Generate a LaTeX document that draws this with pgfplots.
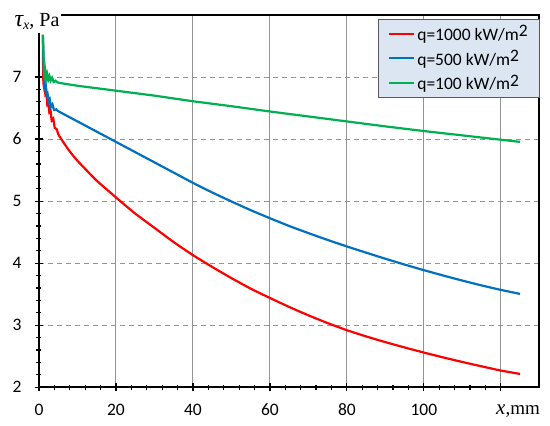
\documentclass[border=0pt]{standalone}
\usepackage{fontspec}
\setmainfont{Carlito}
\newfontfamily\serif{Liberation Serif}
\usepackage{pgfplots}
\pgfplotsset{compat=1.18}
\definecolor{cred}{RGB}{255,0,0}
\definecolor{cblue}{RGB}{0,112,192}
\definecolor{cgreen}{RGB}{0,176,80}
\definecolor{legfill}{RGB}{220,230,242}
\begin{document}
\begin{tikzpicture}
\begin{axis}[
  name=ax,
  at={(0,0)}, anchor=south west,
  scale only axis,
  width=500.3pt, height=372.3pt,
  xmin=0, xmax=130, ymin=2, ymax=8,
  xtick={0,20,40,60,80,100,120},
  xticklabels={0,20,40,60,80,100,{}},
  ytick={2,3,4,5,6,7},
  minor x tick num=4,
  minor y tick num=4,
  xtick pos=bottom, ytick pos=left,
  tick align=center,
  major tick length=8pt, minor tick length=5pt,
  every tick/.style={black, line width=1.2pt},
  axis line style={black, line width=1.6pt},
  xmajorgrids, ymajorgrids,
  major x grid style={gray!85, line width=1pt, solid},
  major y grid style={gray!85, line width=1pt, dash pattern=on 5pt off 4pt},
  /pgf/number format/assume math mode=true,
  ticklabel style={font=\fontsize{17.5}{19}\selectfont},
  xticklabel style={yshift=-9pt},
  yticklabel style={xshift=-10pt},
  legend style={at={(1,1)}, anchor=north east, xshift=1pt, yshift=-4pt,
    fill=legfill, draw=gray!70!black, line width=1pt,
    font=\fontsize{17.5}{19}\selectfont, row sep=4pt, inner xsep=10pt, inner ysep=4pt},
  legend cell align=left,
  legend image code/.code={\draw[#1, line width=2pt] (0pt,0pt) -- (25pt,0pt);},
]
\addplot[cred, line width=2.2pt, smooth, tension=0.35] coordinates {
(1.0,7.68) (1.1,7.0) (1.25,6.86) (1.45,6.95) (1.65,6.72) (1.9,6.78) (2.15,6.56) (2.4,6.62) (2.7,6.42) (3.0,6.46) (3.3,6.30) (3.7,6.33) (4.1,6.18) (4.6,6.16) (5,6.08) (6,5.98) (8,5.80) (10,5.65) (12,5.52) (15,5.33) (20,5.06) (25,4.80) (30,4.57) (35,4.34) (40,4.13) (45,3.94) (50,3.76) (55,3.59) (60,3.44) (65,3.295) (70,3.16) (75,3.035) (80,2.92) (85,2.82) (90,2.728) (95,2.642) (100,2.56) (105,2.482) (110,2.408) (115,2.338) (120,2.27) (125,2.215)
};
\addlegendentry{q=1000 kW/m\raisebox{0.45ex}{2}}
\addplot[cblue, line width=2.2pt, smooth, tension=0.35] coordinates {
(1.0,7.68) (1.3,7.0) (1.5,6.85) (1.7,6.92) (1.9,6.7) (2.2,6.74) (2.5,6.6) (2.8,6.64) (3.1,6.52) (3.5,6.56) (3.9,6.47) (4.5,6.48) (5,6.45) (10,6.285) (15,6.12) (20,5.955) (25,5.79) (30,5.625) (35,5.46) (40,5.295) (45,5.14) (50,4.995) (55,4.855) (60,4.725) (65,4.60) (70,4.485) (75,4.375) (80,4.27) (85,4.17) (90,4.072) (95,3.978) (100,3.888) (105,3.802) (110,3.72) (115,3.642) (120,3.57) (125,3.505)
};
\addlegendentry{q=500 kW/m\raisebox{0.45ex}{2}}
\addplot[cgreen, line width=2.2pt, smooth, tension=0.35] coordinates {
(1.0,7.68) (1.4,7.0) (1.6,7.1) (1.8,6.96) (2.1,7.06) (2.4,6.95) (2.7,7.02) (3.0,6.94) (3.4,6.99) (3.8,6.92) (4.3,6.94) (5,6.91) (10,6.86) (15,6.82) (20,6.78) (30,6.70) (40,6.61) (50,6.53) (60,6.445) (70,6.365) (80,6.285) (90,6.205) (100,6.13) (110,6.06) (120,5.99) (125,5.955)
};
\addlegendentry{q=100 kW/m\raisebox{0.45ex}{2}}
\end{axis}
\node[anchor=base, fill=white, inner xsep=2pt, inner ysep=3pt, font=\serif\fontsize{20}{22}\selectfont]
  at ([xshift=-2pt, yshift=-11.5pt]ax.north west)
  {{\itshape{\fontsize{24}{24}\selectfont τ}\raisebox{-0.35ex}{\fontsize{14}{14}\selectfont x}}, Pa};
\node[anchor=base west, inner sep=0pt, font=\serif\fontsize{19}{21}\selectfont]
  at (457pt,-27.7pt) {{\itshape\fontsize{21}{21}\selectfont x},mm};
\pgfresetboundingbox
\path[use as bounding box] (-39pt,-38.7pt) rectangle (511pt,387.3pt);
\end{tikzpicture}
\end{document}
